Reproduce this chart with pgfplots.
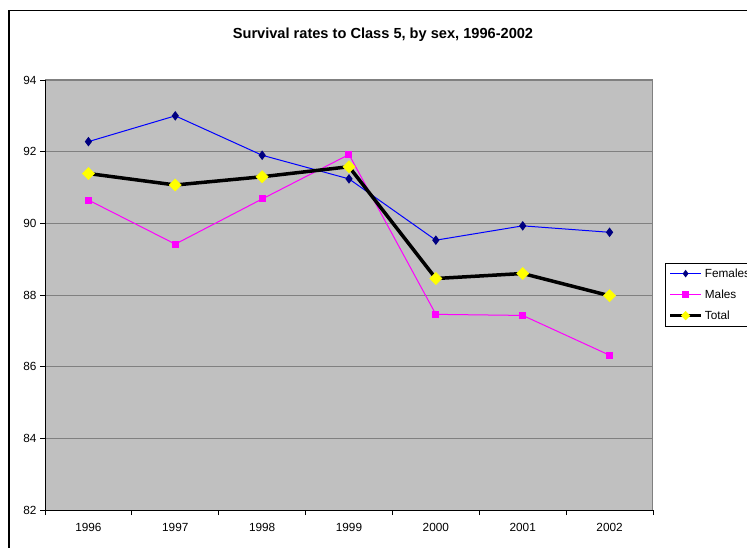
\documentclass[border=0pt]{standalone}
\usepackage{pgfplots}
\pgfplotsset{compat=1.18}
\usepackage{fontspec}
\setmainfont{Liberation Sans}
\definecolor{plotbg}{HTML}{C0C0C0}
\definecolor{gridgray}{HTML}{808080}
\definecolor{fem}{HTML}{0000FF}
\definecolor{femmark}{HTML}{000080}
\definecolor{mal}{HTML}{FF00FF}
\definecolor{tot}{HTML}{FFFF00}
\begin{document}
\begin{tikzpicture}[x=1pt,y=1pt]
\useasboundingbox (0,0) rectangle (747,547);
\clip (0,0) rectangle (747,547);
\fill[white] (0,0) rectangle (747,547);
\draw[black, line width=1.3pt] (9,-5) -- (9,536.5) -- (760,536.5);
\node[font=\bfseries\fontsize{14.6}{17}\selectfont] at (383,512.5) {Survival rates to Class 5, by sex, 1996-2002};
\begin{axis}[
  at={(45pt,37pt)}, anchor=south west,
  scale only axis, width=608pt, height=430pt,
  xmin=0, xmax=7, ymin=82, ymax=94,
  xtick={0,...,7}, x tick label as interval,
  xticklabels={1996,1997,1998,1999,2000,2001,2002},
  ytick={82,84,...,94},
  tick align=outside, xtick pos=bottom, ytick pos=left,
  major tick length=5pt,
  tick style={black, line width=0.8pt},
  ymajorgrids, grid style={gridgray, line width=0.8pt},
  axis background/.style={fill=plotbg},
  axis line style={gridgray, line width=1pt},
  ticklabel style={font=\fontsize{11.8}{13}\selectfont},
  xticklabel style={yshift=-5pt},
  /pgf/number format/assume math mode=true,
  legend style={at={(1.0197,0.5744)}, anchor=north west, draw=black, line width=0.8pt, fill=white,
    font=\fontsize{11.8}{13}\selectfont, inner xsep=3pt, inner ysep=6pt, row sep=12.5pt, column sep=2pt,
    nodes={inner sep=0pt, text height=8.5pt, text depth=0pt}},
  legend cell align=left,
  legend image code/.code={\draw[mark repeat=2,mark phase=2,#1,mark size=3pt] plot coordinates {(0pt,0pt)(15.5pt,0pt)(31pt,0pt)};},
  after end axis/.code={\draw[black, line width=1pt] (rel axis cs:0,1) -- (rel axis cs:0,0) -- (rel axis cs:1,0);},
  clip=false,
]
\addplot[fem, line width=1pt, mark=diamond*, mark size=4pt, mark options={fill=femmark, draw=femmark}]
  coordinates {(0.5,92.28) (1.5,93.00) (2.5,91.90) (3.5,91.24) (4.5,89.53) (5.5,89.93) (6.5,89.75)};
\addlegendentry{Females}
\addplot[mal, line width=1pt, mark=square*, mark size=3pt, mark options={fill=mal, draw=mal}]
  coordinates {(0.5,90.65) (1.5,89.42) (2.5,90.68) (3.5,91.92) (4.5,87.46) (5.5,87.43) (6.5,86.32)};
\addlegendentry{Males}
\addplot[black, line width=3.5pt, mark=square*, mark size=4.3pt, mark options={fill=tot, draw=tot, line width=0.5pt, rotate=45}]
  coordinates {(0.5,91.39) (1.5,91.07) (2.5,91.30) (3.5,91.58) (4.5,88.46) (5.5,88.60) (6.5,87.98)};
\addlegendentry{Total}
\end{axis}
\end{tikzpicture}
\end{document}
